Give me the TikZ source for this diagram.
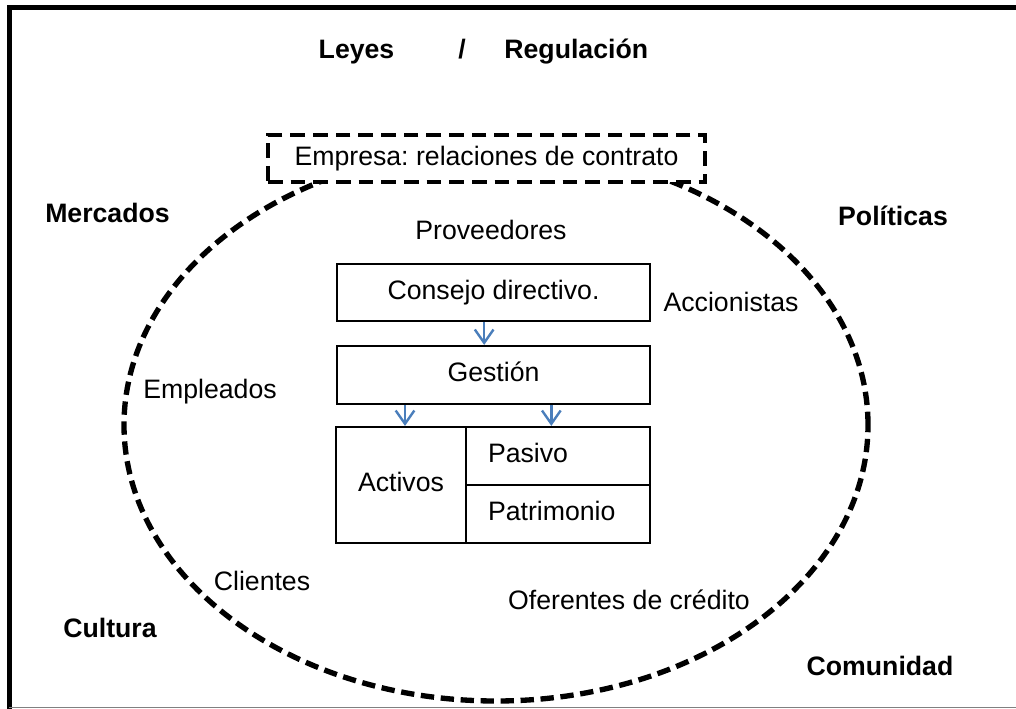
\documentclass[tikz,border=0pt]{standalone}
\usepackage{fontspec}
\setmainfont{Liberation Sans}
\usepackage{xcolor}
\usepackage{tikz}
\usetikzlibrary{arrows.meta}
\definecolor{azul}{HTML}{4A7EBB}
\definecolor{borde}{HTML}{808080}
\frenchspacing

\begin{document}
\begin{tikzpicture}[x=0.75pt, y=-0.75pt,
  every node/.style={font=\fontsize{20}{24}\selectfont},
  texto/.style={anchor=base},
  etiqueta/.style={anchor=base, font=\fontsize{20}{24}\selectfont\bfseries},
  caja/.style={draw, line width=1.6pt, inner sep=0pt, text height=15pt, text depth=5pt},
  flecha/.style={azul, line width=1.8pt, -{Straight Barb[length=10pt, width=14pt]}}]
  \useasboundingbox (0,0) rectangle (1016,709);

  % marco
  \draw[line width=3.75pt] (9.5,712) -- (9.5,8) -- (1020,8);
  \draw[borde, line width=1.2pt] (9,707.5) -- (1016,707.5);

  % entorno de la empresa
  \draw[line width=4pt, dash pattern=on 10pt off 5pt] (496,425) ellipse [x radius=279pt, y radius=207pt];
  \node[draw, fill=white, line width=3.4pt, dash pattern=on 11pt off 6pt, minimum width=327.75pt, minimum height=35.25pt, inner sep=0pt, text height=15pt, text depth=5pt] (empresa) at (486.5,158.5) {Empresa: relaciones de contrato};

  % estructura interna
  \node[caja, minimum width=235pt, minimum height=42.75pt] (consejo) at (493.5,292.5) {Consejo directivo.};
  \node[caja, minimum width=235pt, minimum height=43.5pt] (gestion) at (493.5,375) {Gestión};
  \node[caja, minimum width=97.5pt, minimum height=87pt] (activos) at (401,485) {Activos};
  \node[caja, minimum width=138pt, minimum height=43.5pt, text width=105pt, inner xsep=16.5pt, align=left] (pasivo) at (558,456) {Pasivo};
  \node[caja, minimum width=138pt, minimum height=43.5pt, text width=105pt, inner xsep=16.5pt, align=left] (patrimonio) at (558,514) {Patrimonio};

  \coordinate (c) at ([xshift=-7pt]consejo.south);
  \coordinate (a) at ([xshift=3pt]activos.north);
  \coordinate (p) at ([xshift=-5pt]pasivo.north);
  \draw[flecha] (c) -- (gestion.north -| c);
  \draw[flecha] (gestion.south -| a) -- (a);
  \draw[flecha] (gestion.south -| p) -- (p);

  % grupos de interes
  \node[texto] (proveedores) at (491,239) {Proveedores};
  \node[texto] (accionistas) at (731,311) {Accionistas};
  \node[texto] (empleados) at (210,398) {Empleados};
  \node[texto] (clientes) at (262,590) {Clientes};
  \node[texto] (oferentes) at (629,609) {Oferentes de crédito};

  % contexto
  \node[etiqueta, anchor=base west] (leyes) at (314,59) {Leyes\hspace{48pt}/\hspace{29pt}Regulación};
  \node[etiqueta] (mercados) at (107.5,223) {Mercados};
  \node[etiqueta] (politicas) at (893,226) {Políticas};
  \node[etiqueta] (cultura) at (110,637) {Cultura};
  \node[etiqueta] (comunidad) at (880,675) {Comunidad};
\end{tikzpicture}
\end{document}
